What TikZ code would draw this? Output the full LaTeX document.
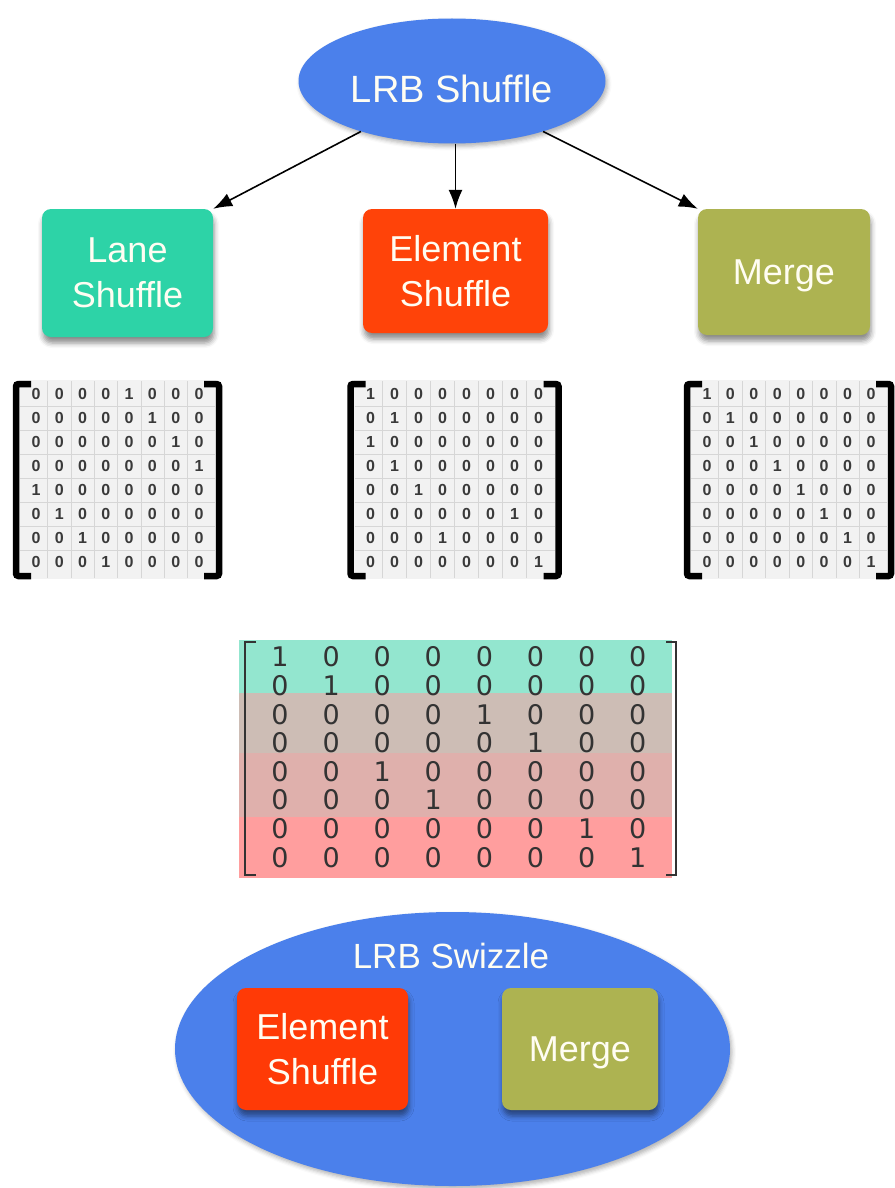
\documentclass[tikz,border=0pt]{standalone}
\usepackage{fontspec}
\setmainfont{Liberation Sans}
\newfontfamily\digitfont{DejaVu Sans}
\usetikzlibrary{shapes.geometric,shadows.blur,arrows.meta}

\definecolor{lrbblue}{HTML}{4B80EB}
\definecolor{laneteal}{HTML}{2DD3A7}
\definecolor{elemred}{HTML}{FF4309}
\definecolor{elemredb}{HTML}{FF3A06}
\definecolor{mergeolive}{HTML}{ADB351}
\definecolor{labeltext}{HTML}{FFFDF2}
\definecolor{permink}{HTML}{3A3A3A}
\definecolor{bandA}{HTML}{93E6CF}
\definecolor{bandB}{HTML}{CDBDB5}
\definecolor{bandC}{HTML}{DFB0AC}
\definecolor{bandD}{HTML}{FF9E9E}
\definecolor{bigink}{HTML}{333333}

% one small 8x8 permutation matrix: #1 name, #2 left bracket x, #3 right bracket x,
% #4 list of row/column-of-the-one pairs
\newcommand{\drawperm}[4]{%
  \fill[permbg] (#2+3,380) rectangle (#3-3,579);
  \foreach \k in {1,...,7} {
    \draw[permgrid] ({#2+20+(\k-0.5)*((#3-#2-40)/7)},381) -- ++(0,197);
    \draw[permgrid] (#2+4,{382+\k*24}) -- (#3-4,{382+\k*24});
  }
  \foreach \r/\p in {#4} {
    \foreach \c in {1,...,8} {
      \node[permentry] (#1-\r-\c) at ({#2+20+(\c-1)*((#3-#2-40)/7)},{394+(\r-1)*24})
        {\ifnum\c=\p\relax 1\else 0\fi};
    }
  }
  \draw[permbracket] (#2+15,384) -- (#2,384) -- (#2,576) -- (#2+15,576);
  \draw[permbracket] (#3-15,384) -- (#3,384) -- (#3,576) -- (#3-15,576);
}

\begin{document}
\begin{tikzpicture}[x=1pt,y=-1pt,
  oval/.style={ellipse, fill=lrbblue, inner sep=0pt,
    blur shadow={shadow xshift=2pt, shadow yshift=-3pt, shadow blur radius=4pt, shadow opacity=30}},
  proc/.style={rectangle, rounded corners=9pt, inner sep=0pt, text=labeltext, align=center,
    font=\fontsize{36}{45}\selectfont,
    blur shadow={shadow xshift=1pt, shadow yshift=-6pt, shadow blur radius=5pt, shadow opacity=45}},
  flow/.style={-{Latex[length=19pt,width=14pt]}, line width=1.6pt, black},
  permbg/.style={fill=black!5},
  permgrid/.style={draw=black!16, line width=0.5pt},
  permentry/.style={inner sep=0pt, text=permink, font=\bfseries\fontsize{16}{16}\selectfont},
  permbracket/.style={draw=black, line width=6.5pt, rounded corners=2.5pt},
  bigentry/.style={inner sep=0pt, text=bigink, font=\digitfont\fontsize{27}{27}\selectfont},
  bigbracket/.style={draw=black!80, line width=2.4pt},
]
\useasboundingbox (0,0) rectangle (894,1188);

% top level operation and its three parts
\node[oval, minimum width=307pt, minimum height=125pt, text=labeltext,
      font=\fontsize{38}{38}\selectfont, text height=44pt] (shuffle) at (452,81) {LRB Shuffle};
\node[proc, fill=laneteal, minimum width=171pt, minimum height=128pt] (lane) at (127.5,273) {Lane\\Shuffle};
\node[proc, fill=elemred, minimum width=185pt, minimum height=124pt] (elem) at (455.5,271) {Element\\Shuffle};
\node[proc, fill=mergeolive, minimum width=172pt, minimum height=126pt, text depth=0pt] (merge) at (784,272) {Merge};

\draw[flow] (shuffle.209) -- (lane.north east);
\draw[flow] (shuffle.south -| elem.north) -- (elem.north);
\draw[flow] (shuffle.331) -- (merge.north west);

% the three permutation matrices
\drawperm{lanem}{16}{219}{1/5,2/6,3/7,4/8,5/1,6/2,7/3,8/4}
\drawperm{elemm}{350.5}{558.5}{1/1,2/2,3/1,4/2,5/3,6/7,7/4,8/8}
\drawperm{mergem}{687}{891}{1/1,2/2,3/3,4/4,5/5,6/6,7/7,8/8}

% combined matrix with coloured row bands
\fill[bandA] (239,640) rectangle (672,693);
\fill[bandB] (239,693) rectangle (672,753);
\fill[bandC] (239,753) rectangle (672,817);
\fill[bandD] (239,817) rectangle (672,878);
\foreach \r/\p in {1/1,2/2,3/5,4/6,5/3,6/4,7/7,8/8} {
  \foreach \c in {1,...,8} {
    \node[bigentry] (big-\r-\c) at ({280+(\c-1)*51.1},{657+(\r-1)*28.6})
      {\ifnum\c=\p\relax 1\else 0\fi};
  }
}
\draw[bigbracket] (256,642) -- (245,642) -- (245,875) -- (256,875);
\draw[bigbracket] (666,642) -- (676,642) -- (676,875) -- (666,875);

% fused operation
\node[oval, minimum width=555pt, minimum height=274pt] (swizzle) at (452.5,1049) {};
\node[anchor=base, text=labeltext, font=\fontsize{35}{35}\selectfont] (swizlabel) at (451,968) {LRB Swizzle};
\node[proc, fill=elemredb, minimum width=171pt, minimum height=122pt] (elem2) at (322.5,1049) {Element\\Shuffle};
\node[proc, fill=mergeolive, minimum width=156pt, minimum height=122pt, text depth=0pt] (merge2) at (580,1049) {Merge};
\end{tikzpicture}
\end{document}
